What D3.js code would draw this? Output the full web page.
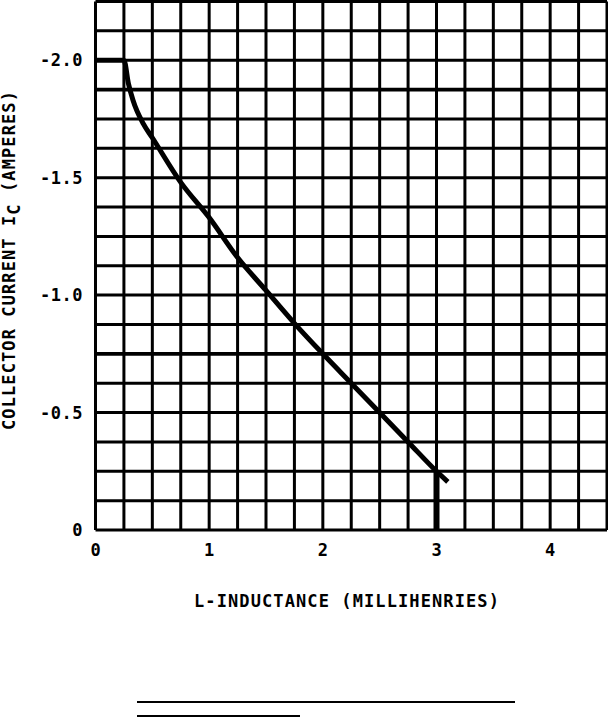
<!DOCTYPE html>
<html>
<head>
<meta charset="utf-8">
<script src="https://cdn.jsdelivr.net/npm/d3@7"></script>
<style>
  body { margin: 0; background: #fff; }
  text { font-family: "DejaVu Sans Mono", monospace; font-weight: bold; fill: #000; }
</style>
</head>
<body>
<div class="chart"></div>
<script>
// curve
var inductance = [0, 0.25, 0.29, 0.33, 0.42, 0.5, 0.75, 1.0, 1.25, 1.5, 1.75, 2.0, 2.25, 2.5, 2.75, 3.0, 3.1];
var current = [-2.0, -2.0, -1.9, -1.83, -1.73, -1.67, -1.48, -1.33, -1.16, -1.02, -0.88, -0.75, -0.625, -0.50, -0.375, -0.25, -0.205];
var xTicks = [0, 1, 2, 3, 4];
var yTicks = [0, -0.5, -1.0, -1.5, -2.0];
var yTickLabels = ["0", "-0.5", "-1.0", "-1.5", "-2.0"];
var cutoffX = 3;
var cutoffY = -0.25;

var svgWidth = 608, svgHeight = 719;

var svg = d3.select(".chart")
            .append("svg")
            .attr("width", svgWidth)
            .attr("height", svgHeight);

var x = d3.scaleLinear().domain([0, 4.5]).range([95.5, 607]);
var y = d3.scaleLinear().domain([0, -2.25]).range([530, 1.5]);

// grid
var grid = svg.append("g");
grid.selectAll("line.v")
    .data(d3.range(0, 4.5001, 0.25))
    .enter()
    .append("line")
    .attr("x1", d => x(d)).attr("x2", d => x(d))
    .attr("y1", y(0)).attr("y2", y(-2.25))
    .attr("stroke", "#000")
    .attr("stroke-width", 3);

grid.selectAll("line.h")
    .data(d3.range(0, 18.001, 1).map(i => -i * 0.125))
    .enter()
    .append("line")
    .attr("x1", x(0)).attr("x2", x(4.5))
    .attr("y1", d => y(d)).attr("y2", d => y(d))
    .attr("stroke", "#000")
    .attr("stroke-width", d => (d === -0.75 || d === -1.875) ? 3.8 : 3);

// tick labels
svg.selectAll("text.ytick")
   .data(yTicks)
   .enter()
   .append("text")
   .attr("x", 83)
   .attr("y", d => y(d) + 6)
   .attr("text-anchor", "end")
   .style("font-size", "17px")
   .style("letter-spacing", "0.5px")
   .text((d, i) => yTickLabels[i]);

svg.selectAll("text.xtick")
   .data(xTicks)
   .enter()
   .append("text")
   .attr("x", d => x(d))
   .attr("y", 556)
   .attr("text-anchor", "middle")
   .style("font-size", "17px")
   .text(d => d);

// curve
var line = d3.line()
             .x((d, i) => x(inductance[i]))
             .y((d, i) => y(current[i]))
             .curve(d3.curveMonotoneX);

svg.append("path")
   .datum(current)
   .attr("d", line)
   .attr("fill", "none")
   .attr("stroke", "#000")
   .attr("stroke-width", 5)
   .attr("stroke-linejoin", "round");

// cutoff bar at 3 mH
svg.append("line")
   .attr("x1", x(cutoffX)).attr("x2", x(cutoffX))
   .attr("y1", y(0)).attr("y2", y(cutoffY))
   .attr("stroke", "#000")
   .attr("stroke-width", 6);

// axis titles
svg.append("text")
   .attr("x", 347)
   .attr("y", 607)
   .attr("text-anchor", "middle")
   .style("font-size", "17px")
   .style("letter-spacing", "1.1px")
   .text("L-INDUCTANCE (MILLIHENRIES)");

var yTitle = svg.append("text")
   .attr("transform", "translate(15, 260) rotate(-90)")
   .attr("text-anchor", "middle")
   .style("font-size", "17px")
   .style("letter-spacing", "1.1px");
yTitle.append("tspan").text("COLLECTOR CURRENT I");
yTitle.append("tspan").attr("dy", 5).text("C");
yTitle.append("tspan").attr("dy", -5).text(" (AMPERES)");

// rules under the chart
svg.append("line")
   .attr("x1", 137).attr("x2", 515)
   .attr("y1", 702).attr("y2", 702)
   .attr("stroke", "#000").attr("stroke-width", 2);
svg.append("line")
   .attr("x1", 137).attr("x2", 300)
   .attr("y1", 716).attr("y2", 716)
   .attr("stroke", "#000").attr("stroke-width", 2);
</script>
</body>
</html>
